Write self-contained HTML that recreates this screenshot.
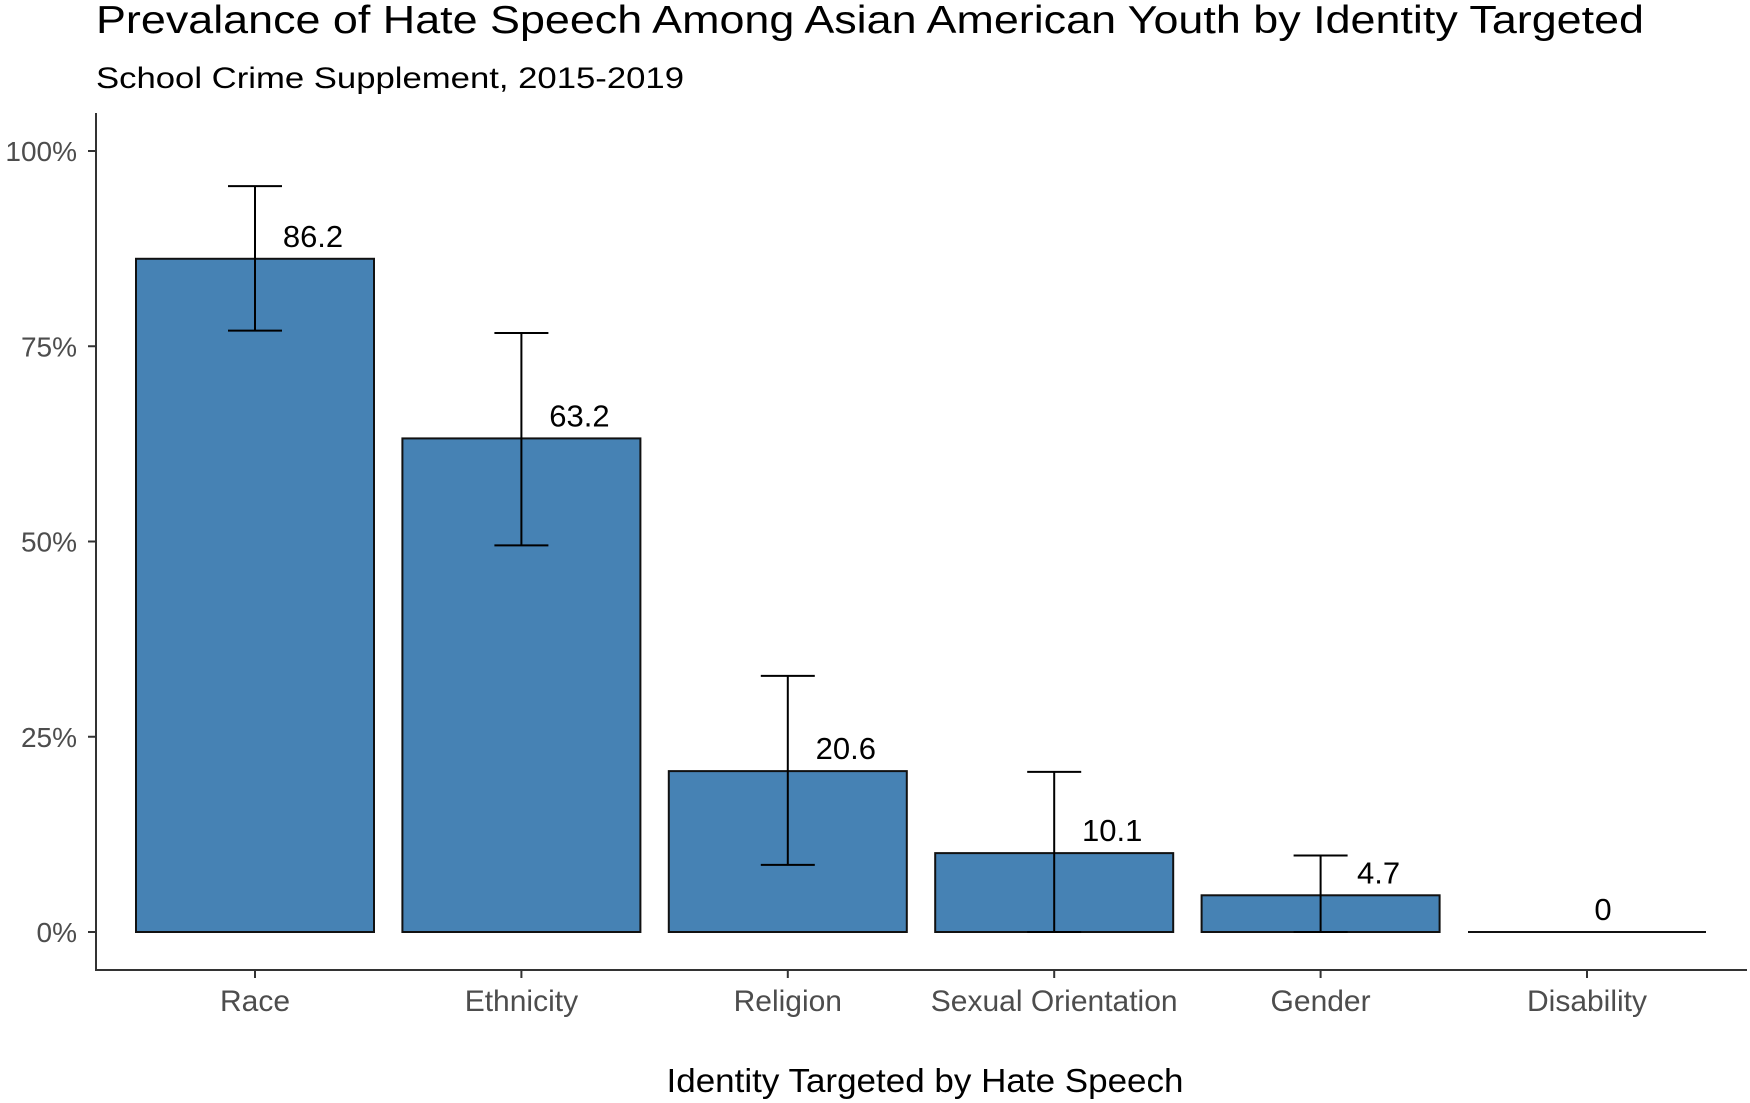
<!DOCTYPE html>
<html><head><meta charset="utf-8">
<style>
html,body{margin:0;padding:0;background:#fff;}
svg{display:block;font-family:"Liberation Sans",Arial,sans-serif;}
</style></head>
<body>
<svg id="chart" width="1750" height="1103" viewBox="0 0 1750 1103">
<text x="96" y="33" font-size="39" fill="#000" textLength="1548" lengthAdjust="spacingAndGlyphs">Prevalance of Hate Speech Among Asian American Youth by Identity Targeted</text>
<text x="96" y="88" font-size="30" fill="#000" textLength="588" lengthAdjust="spacingAndGlyphs">School Crime Supplement, 2015-2019</text>
<g id="plot"></g>
<text x="925" y="1092" font-size="33" text-anchor="middle" fill="#000" textLength="517" lengthAdjust="spacingAndGlyphs">Identity Targeted by Hate Speech</text>
</svg>
<script>
const categories = ["Race","Ethnicity","Religion","Sexual Orientation","Gender","Disability"];
const values = [86.2, 63.2, 20.6, 10.1, 4.7, 0];
const lowerCI = [77, 49.5, 8.6, 0, 0, null];
const upperCI = [95.5, 76.7, 32.8, 20.5, 9.8, null];
const labels = ["86.2","63.2","20.6","10.1","4.7","0"];
const yTicks = [0, 25, 50, 75, 100];
const yTickLabels = ["0%","25%","50%","75%","100%"];

const NS = "http://www.w3.org/2000/svg";
const g = document.getElementById("plot");
const axisX = 96, axisY = 970, xEnd = 1747, yTop = 113;
const y0 = 932, yPerUnit = (932 - 151) / 100;
const firstCenter = 255, step = 266.4, barW = 238, capW = 54;
function yScale(v){ return y0 - v * yPerUnit; }
function xScale(i){ return firstCenter + i * step; }
function mk(tag, attrs){ const e = document.createElementNS(NS, tag); for (const k in attrs) e.setAttribute(k, attrs[k]); g.appendChild(e); return e; }

let yl = mk("line",{x1:axisX,y1:yTop,x2:axisX,y2:axisY,stroke:"#333","stroke-width":2});


let xl = mk("line",{x1:axisX-1,y1:axisY,x2:xEnd,y2:axisY,stroke:"#333","stroke-width":2});



yTicks.forEach((t, i) => {
  const y = yScale(t);
  const tk = mk("line",{x1:axisX-8,y1:y,x2:axisX,y2:y,stroke:"#333","stroke-width":2});
  
  
  const tx = mk("text",{x:77,y:y+10,"font-size":28,"text-anchor":"end",fill:"#4d4d4d"});
  tx.textContent = yTickLabels[i];
  
  
});

categories.forEach((c, i) => {
  const cx = xScale(i);
  const top = yScale(values[i]);
  const h = y0 - top;
  let bar;
  if (h > 0.5) {
    bar = mk("rect",{x:cx-barW/2,y:top,width:barW,height:h,fill:"#4682b4",stroke:"#111","stroke-width":2});
  } else {
    bar = mk("line",{x1:cx-barW/2,y1:top,x2:cx+barW/2,y2:top,stroke:"#111","stroke-width":2});
  }
  
  
  if (lowerCI[i] !== null) {
    const yl1 = yScale(lowerCI[i]), yu = yScale(upperCI[i]);
    const eb = mk("path",{d:`M${cx-capW/2},${yu}H${cx+capW/2}M${cx},${yu}V${yl1}M${cx-capW/2},${yl1}H${cx+capW/2}`,stroke:"#000","stroke-width":2,fill:"none"});
    
    
  }
  const lx = values[i] === 0 ? cx + 16 : cx + 58;
  const lb = mk("text",{x:lx,y:top-12,"font-size":31,"text-anchor":"middle",fill:"#000"});
  lb.textContent = labels[i];
  
  
  const tk = mk("line",{x1:cx,y1:axisY,x2:cx,y2:axisY+8,stroke:"#333","stroke-width":2});
  
  
  const xt = mk("text",{x:cx,y:1011,"font-size":30,"text-anchor":"middle",fill:"#4d4d4d"});
  xt.textContent = c;
  
  
});
</script>
</body></html>
